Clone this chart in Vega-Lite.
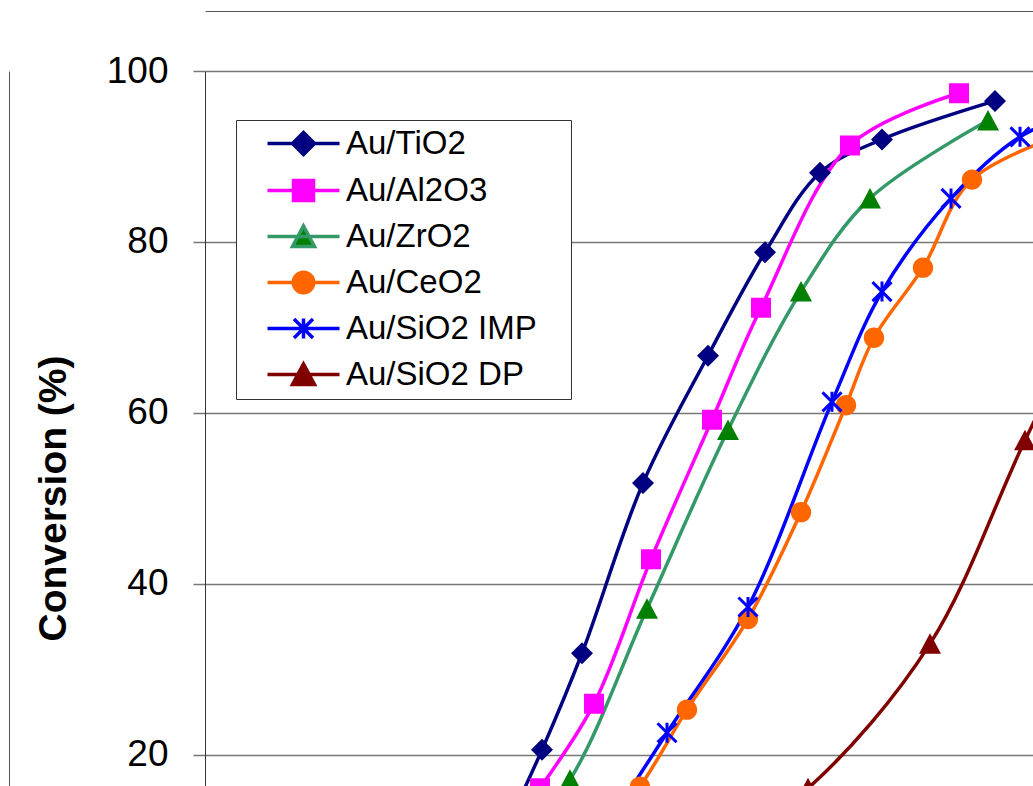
{
  "$schema": "https://vega.github.io/schema/vega-lite/v6.json",
  "width": 828,
  "height": 715,
  "autosize": {"type": "none"},
  "padding": {"left": 205, "top": 71, "right": 0, "bottom": 0},
  "background": "#ffffff",
  "config": {"view": {"stroke": null}},
  "data": {"values": [
    {"series": "Au/TiO2", "T": 295, "conv": 10},
    {"series": "Au/TiO2", "T": 337, "conv": 20.6},
    {"series": "Au/TiO2", "T": 377, "conv": 31.9},
    {"series": "Au/TiO2", "T": 438, "conv": 51.8},
    {"series": "Au/TiO2", "T": 503, "conv": 66.7},
    {"series": "Au/TiO2", "T": 560, "conv": 78.8},
    {"series": "Au/TiO2", "T": 615, "conv": 88.1},
    {"series": "Au/TiO2", "T": 677, "conv": 92.0},
    {"series": "Au/TiO2", "T": 790, "conv": 96.5},
    {"series": "Au/Al2O3", "T": 285, "conv": 8},
    {"series": "Au/Al2O3", "T": 335, "conv": 16.1},
    {"series": "Au/Al2O3", "T": 389, "conv": 26.0},
    {"series": "Au/Al2O3", "T": 446, "conv": 42.9},
    {"series": "Au/Al2O3", "T": 507, "conv": 59.2},
    {"series": "Au/Al2O3", "T": 556, "conv": 72.3},
    {"series": "Au/Al2O3", "T": 645, "conv": 91.3},
    {"series": "Au/Al2O3", "T": 754, "conv": 97.4},
    {"series": "Au/ZrO2", "T": 295, "conv": 7},
    {"series": "Au/ZrO2", "T": 365, "conv": 17.1},
    {"series": "Au/ZrO2", "T": 442, "conv": 37.1},
    {"series": "Au/ZrO2", "T": 523, "conv": 58.0},
    {"series": "Au/ZrO2", "T": 596, "conv": 74.2},
    {"series": "Au/ZrO2", "T": 665, "conv": 85.1},
    {"series": "Au/ZrO2", "T": 783, "conv": 94.2},
    {"series": "Au/CeO2", "T": 385, "conv": 9},
    {"series": "Au/CeO2", "T": 435, "conv": 16.3},
    {"series": "Au/CeO2", "T": 482, "conv": 25.3},
    {"series": "Au/CeO2", "T": 543, "conv": 35.9},
    {"series": "Au/CeO2", "T": 596, "conv": 48.4},
    {"series": "Au/CeO2", "T": 641, "conv": 60.9},
    {"series": "Au/CeO2", "T": 669, "conv": 68.8},
    {"series": "Au/CeO2", "T": 718, "conv": 77.0},
    {"series": "Au/CeO2", "T": 767, "conv": 87.3},
    {"series": "Au/CeO2", "T": 880, "conv": 93.5},
    {"series": "Au/SiO2 IMP", "T": 395, "conv": 10.5},
    {"series": "Au/SiO2 IMP", "T": 462, "conv": 22.6},
    {"series": "Au/SiO2 IMP", "T": 543, "conv": 37.3},
    {"series": "Au/SiO2 IMP", "T": 627, "conv": 61.3},
    {"series": "Au/SiO2 IMP", "T": 677, "conv": 74.2},
    {"series": "Au/SiO2 IMP", "T": 746, "conv": 85.1},
    {"series": "Au/SiO2 IMP", "T": 815, "conv": 92.3},
    {"series": "Au/SiO2 IMP", "T": 890, "conv": 96.0},
    {"series": "Au/SiO2 DP", "T": 500, "conv": 8},
    {"series": "Au/SiO2 DP", "T": 603, "conv": 16.1},
    {"series": "Au/SiO2 DP", "T": 725, "conv": 33.0},
    {"series": "Au/SiO2 DP", "T": 820, "conv": 56.8},
    {"series": "Au/SiO2 DP", "T": 910, "conv": 78.0}
  ]},
  "encoding": {
    "x": {"field": "T", "type": "quantitative", "title": null,
      "scale": {"domain": [0, 828], "nice": false, "zero": false},
      "axis": {"orient": "top", "offset": 60, "labels": false, "ticks": false, "grid": false, "title": null, "domainColor": "#555555", "domainWidth": 1}}
  },
  "layer": [
    {
      "transform": [{"filter": "datum.conv < 12"}],
      "mark": {"type": "point", "filled": true, "size": 400, "opacity": 1, "strokeWidth": 3.5, "clip": true},
      "encoding": {
        "y": {"field": "conv", "type": "quantitative",
          "scale": {"domain": [16.37, 100], "nice": false, "zero": false},
          "axis": {"orient": "left", "offset": 196, "labels": false, "ticks": false, "grid": false, "title": null, "domainColor": "#555555", "domainWidth": 1}},
        "fill": {"field": "series", "type": "nominal",
          "scale": {"domain": ["Au/TiO2", "Au/Al2O3", "Au/ZrO2", "Au/CeO2", "Au/SiO2 IMP", "Au/SiO2 DP"],
            "range": ["#000080", "#FF00FF", "#008000", "#FF6600", "#0000FF", "#800000"]},
          "legend": {"orient": "none", "legendX": 31, "legendY": 49, "title": "\u2003", "titleOrient": "right", "titleFontSize": 24, "titlePadding": 27,
            "labelFont": "Liberation Sans", "labelFontSize": 33, "labelColor": "#000000", "labelLimit": 500, "symbolSize": 400, "symbolStrokeWidth": 3.5,
            "rowPadding": 11, "padding": 7, "strokeColor": "#333333", "fillColor": "#ffffff", "symbolOffset": 44, "labelOffset": 26}},
        "stroke": {"field": "series", "type": "nominal",
          "scale": {"domain": ["Au/TiO2", "Au/Al2O3", "Au/ZrO2", "Au/CeO2", "Au/SiO2 IMP", "Au/SiO2 DP"],
            "range": ["#000080", "#FF00FF", "#339966", "#FF6600", "#0000FF", "#800000"]},
          "legend": {"orient": "none", "legendX": 31, "legendY": 49, "title": "\u2003", "titleOrient": "right", "titleFontSize": 24, "titlePadding": 27,
            "labelFont": "Liberation Sans", "labelFontSize": 33, "labelColor": "#000000", "labelLimit": 500, "symbolSize": 400, "symbolStrokeWidth": 3.5,
            "rowPadding": 11, "padding": 7, "strokeColor": "#333333", "fillColor": "#ffffff", "symbolOffset": 44, "labelOffset": 26}},
        "shape": {"field": "series", "type": "nominal",
          "scale": {"domain": ["Au/TiO2", "Au/Al2O3", "Au/ZrO2", "Au/CeO2", "Au/SiO2 IMP", "Au/SiO2 DP"],
            "range": [
              "M-3.6,0H3.6M0,-1.1L1.1,0L0,1.1L-1.1,0Z",
              "M-3.6,0H3.6M-1,-1H1V1H-1Z",
              "M-3.6,0H3.6M0,-1.05L1.1,1L-1.1,1Z",
              "M-3.6,0H3.6M1.02,0A1.02,1.02,0,1,1,-1.02,0A1.02,1.02,0,1,1,1.02,0Z",
              "M-3.6,0H3.6M0,-1V1M-0.95,-0.95L0.95,0.95M-0.95,0.95L0.95,-0.95",
              "M-3.6,0H3.6M0,-1.05L1.1,1L-1.1,1Z"
            ]},
          "legend": {"orient": "none", "legendX": 31, "legendY": 49, "title": "\u2003", "titleOrient": "right", "titleFontSize": 24, "titlePadding": 27,
            "labelFont": "Liberation Sans", "labelFontSize": 33, "labelColor": "#000000", "labelLimit": 500, "symbolSize": 400, "symbolStrokeWidth": 3.5,
            "rowPadding": 11, "padding": 7, "strokeColor": "#333333", "fillColor": "#ffffff", "symbolOffset": 44, "labelOffset": 26}}
      }
    },
    {
      "mark": {"type": "line", "interpolate": "catmull-rom", "strokeWidth": 3.5, "clip": true},
      "encoding": {
        "y": {"field": "conv", "type": "quantitative",
          "axis": {"orient": "left", "values": [20, 40, 60, 80, 100], "grid": true, "gridColor": "#777777", "gridWidth": 1.5,
            "domainColor": "#333333", "domainWidth": 1, "tickColor": "#777777", "tickSize": 12, "tickWidth": 1.5,
            "labelFont": "Liberation Sans", "labelFontSize": 37, "labelColor": "#000000", "labelPadding": 25,
            "title": "Conversion (%)", "titleFont": "Liberation Sans", "titleFontSize": 39, "titleFontWeight": "bold",
            "titleColor": "#000000", "titleAngle": -90, "titleX": -140, "titleY": 427, "titleAlign": "center", "titleBaseline": "alphabetic"}},
        "stroke": {"field": "series", "type": "nominal", "legend": null}
      }
    },
    {
      "transform": [{"filter": "datum.series !== 'Au/SiO2 IMP'"}],
      "mark": {"type": "point", "filled": true, "size": 400, "opacity": 1, "strokeWidth": 0, "clip": true},
      "encoding": {
        "y": {"field": "conv", "type": "quantitative", "axis": null},
        "fill": {"field": "series", "type": "nominal", "legend": null},
        "shape": {"field": "series", "type": "nominal", "legend": null}
      }
    },
    {
      "transform": [{"filter": "datum.series === 'Au/SiO2 IMP'"}],
      "mark": {"type": "point", "filled": false, "size": 400, "opacity": 1, "strokeWidth": 3, "color": "#0000FF",
        "shape": "M0,-1V1M-0.95,-0.95L0.95,0.95M-0.95,0.95L0.95,-0.95", "clip": true},
      "encoding": {
        "y": {"field": "conv", "type": "quantitative", "axis": null}
      }
    }
  ],
  "resolve": {"axis": {"y": "independent"}}
}
